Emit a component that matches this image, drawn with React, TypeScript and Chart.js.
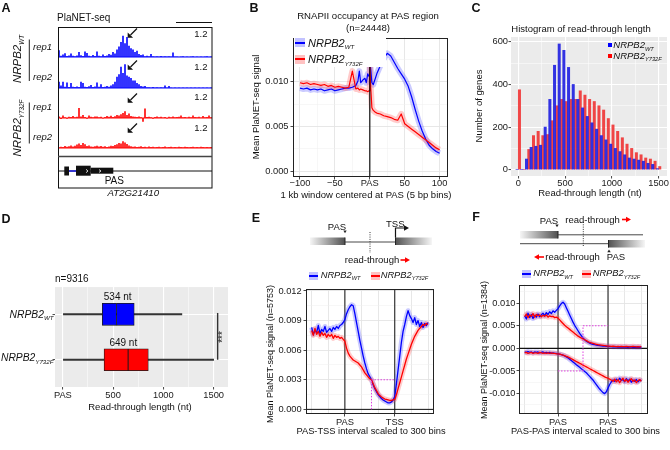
import React, { useEffect, useRef } from "react";
import { Chart, registerables } from "chart.js";

Chart.register(...registerables);

const FONT = '"Liberation Sans", Arial, Helvetica, sans-serif';
Chart.defaults.font.family = FONT;
Chart.defaults.font.size = 9.3;
Chart.defaults.color = "#1a1a1a";

const BLUE = "#0000FF";
const RED = "#FF0000";
const BLUE_BAND = "rgba(70,70,255,0.28)";
const RED_BAND = "rgba(255,70,70,0.28)";

// ---------------- Panel A: PlaNET-seq tracks (77 bins across the locus) ----------------
const aWT1 = [0.27, 0.05, 0.1, 0.15, 0.04, 0.06, 0.14, 0.05, 0.03, 0.06, 0.2, 0.07, 0.04, 0.22, 0.16, 0.05, 0.03, 0.08, 0.04, 0.22, 0.05, 0.03, 0.1, 0.04, 0.06, 0.12, 0.09, 0.2, 0.14, 0.3, 0.42, 0.6, 0.85, 0.55, 0.8, 0.45, 0.35, 0.3, 0.2, 0.25, 0.12, 0.08, 0.1, 0.03, 0.05, 0.03, 0.12, 0.03, 0.02, 0.03, 0.02, 0.04, 0.02, 0.03, 0.02, 0.03, 0.02, 0.18, 0.02, 0.02, 0.01, 0.02, 0.03, 0.01, 0.02, 0.01, 0.02, 0.03, 0.01, 0.02, 0.01, 0.02, 0.01, 0.02, 0.03, 0.01, 0.02];
const aWT2 = [0.25, 0.1, 0.25, 0.05, 0.22, 0.04, 0.2, 0.05, 0.04, 0.06, 0.04, 0.25, 0.2, 0.05, 0.04, 0.07, 0.12, 0.04, 0.06, 0.22, 0.05, 0.15, 0.04, 0.05, 0.08, 0.05, 0.1, 0.15, 0.25, 0.45, 0.55, 0.85, 0.6, 0.95, 0.5, 0.45, 0.4, 0.3, 0.3, 0.2, 0.15, 0.08, 0.06, 0.08, 0.03, 0.03, 0.02, 0.04, 0.02, 0.03, 0.02, 0.03, 0.02, 0.1, 0.02, 0.08, 0.02, 0.01, 0.02, 0.01, 0.02, 0.01, 0.02, 0.01, 0.02, 0.01, 0.02, 0.01, 0.02, 0.01, 0.02, 0.01, 0.02, 0.01, 0.02, 0.01, 0.02];
const aY1 = [0.06, -0.04, 0.1, 0.03, -0.03, 0.05, 0.04, 0.08, 0.03, 0.05, 0.4, 0.06, 0.12, 0.04, -0.03, 0.1, 0.05, 0.03, 0.06, 0.06, 0.03, 0.05, -0.02, 0.04, 0.08, 0.05, 0.09, 0.04, 0.07, 0.12, 0.1, 0.15, 0.2, 0.27, 0.12, 0.18, 0.08, 0.06, 0.05, 0.04, 0.06, 0.03, -0.15, 0.38, 0.04, 0.05, 0.03, -0.03, 0.04, 0.06, 0.03, 0.05, 0.02, 0.04, -0.02, 0.05, 0.03, 0.06, 0.03, 0.04, 0.05, 0.1, 0.03, 0.04, 0.02, 0.05, 0.03, 0.1, 0.04, 0.03, 0.05, 0.02, 0.08, 0.03, 0.04, 0.1, 0.03];
const aY2 = [0.03, 0.05, 0.04, 0.08, 0.05, 0.07, 0.1, 0.06, 0.09, 0.14, 0.18, 0.12, 0.2, 0.15, 0.08, 0.1, 0.06, 0.05, 0.07, 0.09, 0.06, 0.08, 0.05, 0.07, 0.04, 0.06, 0.09, 0.08, 0.12, 0.15, 0.2, 0.18, 0.27, 0.22, 0.16, 0.1, 0.07, 0.05, 0.06, 0.04, 0.05, 0.07, 0.04, 0.05, 0.03, 0.06, 0.04, 0.05, 0.03, 0.04, 0.05, 0.03, 0.04, 0.06, 0.03, 0.04, 0.05, 0.03, 0.04, 0.03, 0.05, 0.04, 0.03, 0.05, 0.04, 0.03, 0.04, 0.05, 0.03, 0.04, 0.03, 0.05, 0.04, 0.03, 0.04, 0.03, 0.04];

// ---------------- Panel B: occupancy at PAS ----------------
const bX = [-100, -95, -90, -85, -80, -75, -70, -65, -60, -55, -50, -45, -40, -35, -30, -25, -20, -17, -15, -13, -10, -7, -5, -3, -1, 0, 1, 3, 5, 8, 10, 15, 20, 25, 30, 35, 40, 45, 50, 55, 60, 65, 70, 75, 80, 85, 90, 95, 100];
const bWT = [0.0093, 0.0092, 0.0093, 0.0091, 0.0092, 0.0091, 0.0092, 0.009, 0.0091, 0.0092, 0.009, 0.0091, 0.0092, 0.0093, 0.0093, 0.0094, 0.0096, 0.0101, 0.0112, 0.0099, 0.0102, 0.0104, 0.0099, 0.0109, 0.0106, 0.013, 0.0117, 0.0099, 0.0097, 0.0104, 0.0109, 0.0118, 0.0126, 0.0132, 0.0129, 0.0122, 0.0115, 0.0109, 0.0103, 0.0095, 0.0083, 0.0069, 0.0056, 0.0045, 0.0036, 0.0029, 0.0025, 0.0022, 0.002];
const bY732F = [0.0099, 0.0098, 0.0099, 0.0097, 0.0098, 0.0097, 0.0096, 0.0097, 0.0095, 0.0096, 0.0094, 0.0095, 0.0094, 0.0093, 0.0094, 0.0112, 0.0092, 0.0093, 0.0091, 0.0092, 0.0091, 0.009, 0.009, 0.0089, 0.009, 0.0121, 0.0098, 0.0071, 0.0068, 0.0066, 0.0065, 0.0064, 0.0062, 0.0061, 0.006, 0.0058, 0.0057, 0.0064, 0.0053, 0.005, 0.0047, 0.0044, 0.0041, 0.0038, 0.0035, 0.0032, 0.0029, 0.0026, 0.0024];

// ---------------- Panel C: histogram ----------------
const cBins = [0, 50, 100, 150, 200, 250, 300, 350, 400, 450, 500, 550, 600, 650, 700, 750, 800, 850, 900, 950, 1000, 1050, 1100, 1150, 1200, 1250, 1300, 1350, 1400, 1450, 1500];
const cWT = [0, 0, 50, 105, 110, 115, 200, 330, 490, 590, 560, 480, 400, 330, 290, 250, 220, 190, 160, 140, 120, 100, 85, 70, 55, 50, 45, 40, 30, 25, 5];
const cY732F = [375, 0, 95, 160, 180, 160, 165, 230, 300, 330, 320, 330, 330, 370, 350, 330, 320, 300, 280, 240, 210, 180, 150, 120, 100, 80, 70, 55, 50, 40, 15];

// ---------------- Panel D: boxplot (min, q1, median, q3, max) ----------------
const dGroups = ["WT", "Y732F"];
const dMin = [0, 0];
const dQ1 = [393, 410];
const dMed = [534, 649];
const dQ3 = [710, 850];
const dMax = [1184, 1500];

// ---------------- Panel E: PAS-TSS ----------------
const eX = [-200, -190, -180, -170, -160, -150, -140, -130, -120, -110, -100, -90, -80, -70, -60, -50, -40, -30, -20, -10, 0, 10, 20, 30, 40, 50, 60, 70, 80, 90, 100, 110, 120, 130, 140, 150, 160, 170, 180, 190, 200, 210, 220, 230, 240, 250, 260, 270, 280, 290, 300, 310, 320, 330, 340, 350, 360, 370, 380, 390, 400, 410, 420, 430, 440, 450, 460, 470, 480, 490, 500];
const eWT = [0.0083, 0.0076, 0.008, 0.0078, 0.0085, 0.0077, 0.0081, 0.0079, 0.0084, 0.0078, 0.008, 0.0082, 0.0079, 0.0083, 0.0081, 0.0084, 0.0082, 0.0085, 0.0086, 0.0088, 0.0091, 0.0097, 0.0101, 0.0104, 0.0106, 0.0105, 0.0097, 0.0088, 0.0079, 0.007, 0.0062, 0.0054, 0.0047, 0.0041, 0.0036, 0.0033, 0.003, 0.0025, 0.0021, 0.0018, 0.0015, 0.0013, 0.0011, 0.00095, 0.00085, 0.00075, 0.00065, 0.00065, 0.00075, 0.00095, 0.0013, 0.0026, 0.004, 0.0054, 0.0068, 0.0079, 0.0086, 0.0094, 0.01, 0.0095, 0.0092, 0.0088, 0.0093, 0.0086, 0.009, 0.0084, 0.0088, 0.0083, 0.0087, 0.0085, 0.0088];
const eY732F = [0.008, 0.0075, 0.0082, 0.0076, 0.0079, 0.0074, 0.0078, 0.0075, 0.0077, 0.0073, 0.0076, 0.0074, 0.0076, 0.0072, 0.0075, 0.0073, 0.0074, 0.0072, 0.0073, 0.0071, 0.0069, 0.0062, 0.0057, 0.0054, 0.0052, 0.005, 0.0049, 0.0048, 0.0047, 0.0045, 0.0043, 0.004, 0.0037, 0.0035, 0.0033, 0.0031, 0.003, 0.0026, 0.0022, 0.0019, 0.0016, 0.0014, 0.00125, 0.00115, 0.00105, 0.001, 0.00095, 0.0009, 0.0009, 0.00095, 0.001, 0.0015, 0.0021, 0.0027, 0.0033, 0.0039, 0.0045, 0.0051, 0.0056, 0.0061, 0.0066, 0.007, 0.0074, 0.0077, 0.008, 0.0082, 0.0084, 0.0086, 0.0085, 0.0087, 0.0086];

// ---------------- Panel F: PAS-PAS (convergent) ----------------
const fX = eX;
const fWTplus = [0.0072, 0.0065, 0.0078, 0.0068, 0.0075, 0.0066, 0.0073, 0.0069, 0.0076, 0.007, 0.0074, 0.0078, 0.0072, 0.0079, 0.0075, 0.0081, 0.0077, 0.0083, 0.008, 0.0084, 0.0088, 0.0094, 0.0099, 0.0102, 0.0098, 0.009, 0.0082, 0.0074, 0.0066, 0.0058, 0.0051, 0.0045, 0.0039, 0.0033, 0.0028, 0.0023, 0.0019, 0.0016, 0.00135, 0.00115, 0.001, 0.0009, 0.0008, 0.0007, 0.00065, 0.0006, 0.00055, 0.0005, 0.0005, 0.00045, 0.00045, 0.0004, 0.0004, 0.00035, 0.0004, 0.00035, 0.0003, 0.00035, 0.0003, 0.0003, 0.00035, 0.0003, 0.00025, 0.0003, 0.0003, 0.00025, 0.0003, 0.00025, 0.0003, 0.00025, 0.0003];
const fY732Fplus = [0.007, 0.0076, 0.0068, 0.0074, 0.0071, 0.0077, 0.0069, 0.0075, 0.0072, 0.0074, 0.007, 0.0073, 0.0071, 0.0074, 0.0069, 0.0072, 0.007, 0.0071, 0.0068, 0.0069, 0.0067, 0.0063, 0.0059, 0.0055, 0.0051, 0.0048, 0.0045, 0.0042, 0.0039, 0.0036, 0.0033, 0.003, 0.0027, 0.0025, 0.0023, 0.0021, 0.0019, 0.0017, 0.0015, 0.0013, 0.0012, 0.0011, 0.001, 0.0009, 0.0008, 0.00075, 0.0007, 0.00065, 0.0006, 0.00055, 0.0005, 0.0005, 0.00045, 0.0005, 0.00045, 0.0004, 0.00045, 0.0004, 0.00045, 0.0004, 0.0004, 0.00045, 0.0004, 0.00035, 0.0004, 0.00045, 0.0004, 0.00035, 0.0004, 0.00035, 0.0004];
const fWTminus = [-0.0008, -0.0009, -0.0007, -0.0009, -0.0008, -0.001, -0.0008, -0.0009, -0.0008, -0.001, -0.0009, -0.0008, -0.001, -0.0009, -0.001, -0.0009, -0.0011, -0.001, -0.0011, -0.0011, -0.0012, -0.0013, -0.0014, -0.0015, -0.0017, -0.0019, -0.0021, -0.0024, -0.0027, -0.003, -0.0033, -0.0036, -0.0039, -0.0042, -0.0045, -0.0048, -0.0051, -0.0054, -0.0058, -0.0062, -0.0066, -0.007, -0.0075, -0.008, -0.0085, -0.009, -0.0094, -0.0098, -0.01, -0.0096, -0.0088, -0.008, -0.0074, -0.007, -0.0073, -0.0068, -0.0072, -0.0066, -0.0071, -0.0069, -0.0074, -0.0067, -0.0072, -0.0068, -0.0075, -0.007, -0.0073, -0.0069, -0.0074, -0.007, -0.0072];
const fY732Fminus = [-0.001, -0.0009, -0.0011, -0.001, -0.0009, -0.0011, -0.001, -0.001, -0.0011, -0.0009, -0.001, -0.0011, -0.001, -0.0011, -0.001, -0.0011, -0.001, -0.0011, -0.0011, -0.0012, -0.0012, -0.0013, -0.0014, -0.0015, -0.0016, -0.0018, -0.0019, -0.0021, -0.0023, -0.0025, -0.0027, -0.0029, -0.0031, -0.0033, -0.0035, -0.0037, -0.0039, -0.0041, -0.0043, -0.0045, -0.0047, -0.0049, -0.0051, -0.0053, -0.0055, -0.0057, -0.0059, -0.0061, -0.0063, -0.0065, -0.0066, -0.0068, -0.007, -0.0073, -0.0068, -0.0074, -0.0069, -0.0076, -0.007, -0.0066, -0.0073, -0.0069, -0.0075, -0.007, -0.0067, -0.0073, -0.007, -0.0076, -0.0071, -0.0069, -0.0073];

// ---------------- helpers ----------------
type Seg = { x1?: number; x2?: number; y1?: number; y2?: number; color: string; width: number; dash?: number[] };

function panel(p: { bg?: string; frame?: string; under?: Seg[]; over?: Seg[] }) {
  const draw = (chart: any, segs?: Seg[]) => {
    if (!segs || !segs.length) return;
    const { ctx, chartArea: a, scales } = chart;
    const xs = scales.x;
    const ys = scales.y;
    ctx.save();
    ctx.beginPath();
    ctx.rect(a.left, a.top, a.right - a.left, a.bottom - a.top);
    ctx.clip();
    for (const s of segs) {
      const X1 = s.x1 === undefined ? a.left : xs.getPixelForValue(s.x1);
      const X2 = s.x2 === undefined ? a.right : xs.getPixelForValue(s.x2);
      const Y1 = s.y1 === undefined ? a.bottom : ys.getPixelForValue(s.y1);
      const Y2 = s.y2 === undefined ? a.top : ys.getPixelForValue(s.y2);
      ctx.beginPath();
      ctx.strokeStyle = s.color;
      ctx.lineWidth = s.width;
      ctx.setLineDash(s.dash || []);
      ctx.moveTo(X1, Y1);
      ctx.lineTo(X2, Y2);
      ctx.stroke();
    }
    ctx.restore();
  };
  return {
    id: "panel",
    beforeDraw(chart: any) {
      if (!p.bg) return;
      const { ctx, chartArea: a } = chart;
      ctx.save();
      ctx.fillStyle = p.bg;
      ctx.fillRect(a.left, a.top, a.right - a.left, a.bottom - a.top);
      ctx.restore();
    },
    beforeDatasetsDraw(chart: any) {
      draw(chart, p.under);
    },
    afterDatasetsDraw(chart: any) {
      draw(chart, p.over);
      if (p.frame) {
        const { ctx, chartArea: a } = chart;
        ctx.save();
        ctx.strokeStyle = p.frame;
        ctx.lineWidth = 1;
        ctx.strokeRect(Math.round(a.left) + 0.5, Math.round(a.top) + 0.5, Math.round(a.right - a.left) - 1, Math.round(a.bottom - a.top) - 1);
        ctx.restore();
      }
    },
  };
}

const near = (list: number[], v: number) => list.some((m) => Math.abs(m - v) < 1e-9);

function axis(o: any) {
  const minors: number[] = o.minors || [];
  const labeled: number[] = o.labeled || o.majors;
  const marks: number[] = o.marks || labeled;
  const all = [...o.majors, ...minors].sort((a, b) => a - b);
  const fmt = o.fmt || ((v: number) => String(v));
  const gray = o.theme === "gray";
  const majC = gray ? "#FFFFFF" : "#E4E4E4";
  const minC = gray ? "#FFFFFF" : "#EFEFEF";
  return {
    type: "linear",
    min: o.min,
    max: o.max,
    reverse: !!o.reverse,
    offset: false,
    afterBuildTicks: (s: any) => {
      s.ticks = all.map((v) => ({ value: v }));
    },
    afterFit: (s: any) => {
      if (o.horizontal) s.height = o.size;
      else s.width = o.size;
    },
    border: { display: false },
    grid: {
      offset: false,
      drawTicks: true,
      tickLength: 2.5,
      tickWidth: 0.9,
      color: (c: any) => (c.tick && near(o.majors, c.tick.value) ? majC : minC),
      lineWidth: (c: any) => (c.tick && near(o.majors, c.tick.value) ? (gray ? 1.1 : 0.9) : 0.5),
      tickColor: (c: any) => (c.tick && near(marks, c.tick.value) ? "#333333" : "rgba(0,0,0,0)"),
    },
    ticks: {
      autoSkip: false,
      maxRotation: 0,
      minRotation: 0,
      padding: o.pad === undefined ? 1.5 : o.pad,
      color: "#1a1a1a",
      font: { size: 9.3, family: FONT },
      callback: (v: any) => (near(labeled, Number(v)) ? fmt(Number(v)) : ""),
    },
  };
}

const base = (padding: any) => ({
  responsive: false,
  maintainAspectRatio: false,
  animation: false,
  devicePixelRatio: 1,
  events: [],
  layout: { padding },
  plugins: { legend: { display: false }, tooltip: { enabled: false }, title: { display: false } },
});

const lineDs = (xs: number[], ys: number[], color: string, w: number) => ({
  type: "line",
  data: xs.map((x, i) => ({ x, y: ys[i] })),
  borderColor: color,
  borderWidth: w,
  pointRadius: 0,
  tension: 0,
  fill: false,
  borderJoinStyle: "round",
});

const f3 = (v: number) => v.toFixed(3);

function track(vals: number[], color: string) {
  return {
    type: "bar",
    data: {
      labels: vals.map((_, i) => i),
      datasets: [{ data: vals, backgroundColor: color, barPercentage: 0.8, categoryPercentage: 1 }],
    },
    options: {
      ...base({ top: 0, right: 0, left: 0, bottom: 0 }),
      scales: { x: { display: false }, y: { display: false, min: -0.16, max: 1.2 } },
    },
    plugins: [panel({ under: [{ y1: 0, y2: 0, color, width: 1 }] })],
  };
}

const makeB = () => ({
  type: "line",
  data: {
    datasets: [
      lineDs(bX, bY732F, RED, 1.2),
      lineDs(bX, bWT, BLUE, 1.2),
      lineDs(bX, bY732F, RED_BAND, 6),
      lineDs(bX, bWT, BLUE_BAND, 6),
    ],
  },
  options: {
    ...base({ top: 5, right: 7, left: 0, bottom: 0 }),
    scales: {
      x: axis({ min: -110, max: 112, majors: [-100, -50, 0, 50, 100], minors: [-75, -25, 25, 75], fmt: (v: number) => (v === 0 ? "PAS" : v < 0 ? "\u2212" + Math.abs(v) : String(v)), size: 25, horizontal: true, theme: "bw", pad: -1.5 }),
      y: axis({ min: -0.00066, max: 0.01496, majors: [0, 0.005, 0.01], minors: [0.0025, 0.0075, 0.0125], fmt: f3, size: 50, theme: "bw", pad: 2 }),
    },
  },
  plugins: [panel({ frame: "#222", over: [{ x1: 0, x2: 0, color: "#111", width: 1.2 }] })],
});

const makeC = () => ({
  type: "bar",
  data: {
    datasets: [
      { data: cBins.map((x, i) => ({ x, y: cWT[i] })), backgroundColor: "rgba(30,30,225,0.9)", barPercentage: 1, categoryPercentage: 1 },
      { data: cBins.map((x, i) => ({ x, y: cY732F[i] })), backgroundColor: "rgba(240,40,40,0.85)", barPercentage: 1, categoryPercentage: 1 },
    ],
  },
  options: {
    ...base({ top: 7, right: 3, left: 0, bottom: 0 }),
    scales: {
      x: axis({ min: -78, max: 1590, majors: [0, 500, 1000, 1500], minors: [250, 750, 1250], size: 26, horizontal: true, theme: "gray", pad: -0.5 }),
      y: axis({ min: -29.6, max: 622.6, majors: [0, 200, 400, 600], minors: [100, 300, 500], size: 33, theme: "gray", pad: 0.5 }),
    },
  },
  plugins: [panel({ bg: "#EBEBEB" })],
});

const makeD = () => ({
  type: "bar",
  data: {
    datasets: [
      { data: dGroups.map((_, i) => ({ y: i, x: [dMin[i], dMax[i]] })), backgroundColor: "#333333", barThickness: 1.3, grouped: false, order: 3 },
      { data: dGroups.map((_, i) => ({ y: i, x: [dQ1[i], dMed[i]] })), backgroundColor: [BLUE, RED], borderColor: "#1a1a1a", borderWidth: 0.8, borderSkipped: false, barThickness: 22, grouped: false, order: 1 },
      { data: dGroups.map((_, i) => ({ y: i, x: [dMed[i], dQ3[i]] })), backgroundColor: [BLUE, RED], borderColor: "#1a1a1a", borderWidth: 0.8, borderSkipped: false, barThickness: 22, grouped: false, order: 1 },
    ],
  },
  options: {
    ...base({ top: 7, right: 7, left: 0, bottom: 0 }),
    indexAxis: "y",
    scales: {
      x: axis({ min: -78, max: 1643, majors: [0, 500, 1000, 1500], minors: [250, 750, 1250], fmt: (v: number) => (v === 0 ? "PAS" : String(v)), size: 18, horizontal: true, theme: "gray", pad: 0.4 }),
      y: axis({ min: -0.6, max: 1.6, reverse: true, majors: [0, 1], labeled: [], marks: [0, 1], size: 5, theme: "gray" }),
    },
  },
  plugins: [panel({ bg: "#EBEBEB", over: [{ x1: 1540, x2: 1540, y1: -0.03, y2: 1.0, color: "#333", width: 1.4 }] })],
});

const makeE = () => ({
  type: "line",
  data: {
    datasets: [
      lineDs(eX, eY732F, RED, 1.3),
      lineDs(eX, eWT, BLUE, 1.3),
      lineDs(eX, eY732F, RED_BAND, 5),
      lineDs(eX, eWT, BLUE_BAND, 5),
    ],
  },
  options: {
    ...base({ top: 5, right: 6, left: 0, bottom: 0 }),
    scales: {
      x: axis({ min: -234, max: 536, majors: [-200, -100, 0, 100, 200, 300, 400, 500], labeled: [0, 300], fmt: (v: number) => (v === 0 ? "PAS" : "TSS"), size: 16, horizontal: true, theme: "bw", pad: 0.1 }),
      y: axis({ min: -0.00047, max: 0.01216, majors: [0, 0.003, 0.006, 0.009, 0.012], minors: [0.0015, 0.0045, 0.0075, 0.0105], fmt: f3, size: 34, theme: "bw", pad: 1.8 }),
    },
  },
  plugins: [
    panel({
      frame: "#222",
      under: [
        { x1: 0, x2: 0, color: "#111", width: 1 },
        { x1: 300, x2: 300, color: "#111", width: 1 },
        { y1: 0, y2: 0, color: "#111", width: 1 },
      ],
      over: [
        { x1: 160, x2: 160, y1: 0, y2: 0.003, color: "#E040E0", width: 1, dash: [1.5, 1.5] },
        { x1: 160, x2: 300, y1: 0.003, y2: 0.003, color: "#E040E0", width: 1, dash: [1.5, 1.5] },
      ],
    }),
  ],
});

const makeF = () => ({
  type: "line",
  data: {
    datasets: [
      lineDs(fX, fY732Fplus, RED, 1.3),
      lineDs(fX, fY732Fminus, RED, 1.3),
      lineDs(fX, fWTplus, BLUE, 1.3),
      lineDs(fX, fWTminus, BLUE, 1.3),
      lineDs(fX, fY732Fplus, RED_BAND, 5),
      lineDs(fX, fY732Fminus, RED_BAND, 5),
      lineDs(fX, fWTplus, BLUE_BAND, 5),
      lineDs(fX, fWTminus, BLUE_BAND, 5),
    ],
  },
  options: {
    ...base({ top: 5, right: 7, left: 0, bottom: 0 }),
    scales: {
      x: axis({ min: -234, max: 540, majors: [-200, -100, 0, 100, 200, 300, 400, 500], labeled: [0, 300], fmt: () => "PAS", size: 16, horizontal: true, theme: "bw", pad: 0.1 }),
      y: axis({ min: -0.01452, max: 0.01411, majors: [-0.01, -0.005, 0, 0.005, 0.01], minors: [-0.0125, -0.0075, -0.0025, 0.0025, 0.0075, 0.0125], fmt: (v: number) => (v < 0 ? "-" : "") + Math.abs(v).toFixed(3), size: 34, theme: "bw", pad: 1 }),
    },
  },
  plugins: [
    panel({
      frame: "#222",
      under: [
        { x1: 0, x2: 0, color: "#111", width: 1 },
        { x1: 300, x2: 300, color: "#111", width: 1 },
        { y1: 0, y2: 0, color: "#111", width: 1.2 },
      ],
      over: [
        { x1: 150, x2: 150, y1: -0.005, y2: 0.005, color: "#E040E0", width: 1, dash: [1.5, 1.5] },
        { x1: 150, x2: 300, y1: 0.005, y2: 0.005, color: "#E040E0", width: 1, dash: [1.5, 1.5] },
        { x1: 0, x2: 150, y1: -0.005, y2: -0.005, color: "#E040E0", width: 1, dash: [1.5, 1.5] },
      ],
    }),
  ],
});

// ---------------- components ----------------
function ChartCanvas({ left, top, w, h, make }: { left: number; top: number; w: number; h: number; make: () => any }) {
  const ref = useRef<HTMLCanvasElement>(null);
  useEffect(() => {
    const c = new Chart(ref.current as HTMLCanvasElement, make());
    return () => c.destroy();
  }, []);
  return <canvas ref={ref} width={w} height={h} style={{ position: "absolute", left, top, width: w, height: h }} />;
}

function Txt({ x, y, children, size = 9.5, anchor = "middle", rot = false, bold = false, italic = false, color = "#111" }: any) {
  const tx = anchor === "start" ? "0" : anchor === "end" ? "-100%" : "-50%";
  return (
    <div
      style={{
        position: "absolute",
        left: x,
        top: y,
        transform: `translate(${tx}, -50%)${rot ? " rotate(-90deg)" : ""}`,
        whiteSpace: "nowrap",
        fontSize: size,
        lineHeight: 1,
        fontWeight: bold ? 700 : 400,
        fontStyle: italic ? "italic" : "normal",
        color,
        fontFamily: FONT,
      }}
    >
      {children}
    </div>
  );
}

const Nrpb = ({ sub, k = 0.6 }: { sub: string; k?: number }) => (
  <i>
    NRPB2<span style={{ fontSize: `${k}em`, position: "relative", top: "0.4em" }}>{sub}</span>
  </i>
);

const Swatch = ({ x, y, w, h, band, color }: any) => (
  <div style={{ position: "absolute", left: x, top: y - h / 2, width: w, height: h, background: band }}>
    <div style={{ position: "absolute", left: 0, right: 0, top: h / 2 - 1, height: 2, background: color }} />
  </div>
);

const PointerArrow = ({ cx, cy }: { cx: number; cy: number }) => (
  <g>
    <line x1={cx + 4.5} y1={cy - 4.5} x2={cx - 2} y2={cy + 2} stroke="#111" strokeWidth={1.3} />
    <polygon points={`${cx - 4.8},${cy + 4.8} ${cx - 4.8},${cy - 0.6} ${cx + 0.6},${cy + 4.8}`} fill="#111" />
  </g>
);

export default function App() {
  return (
    <div style={{ position: "absolute", left: 0, top: 0, width: 670, height: 450, background: "#fff", overflow: "hidden", fontFamily: FONT, color: "#111" }}>
      {/* Panel A tracks */}
      <ChartCanvas left={58} top={27} w={154} h={34} make={() => track(aWT1, BLUE)} />
      <ChartCanvas left={58} top={58} w={154} h={34} make={() => track(aWT2, BLUE)} />
      <ChartCanvas left={58} top={88} w={154} h={34} make={() => track(aY1, RED)} />
      <ChartCanvas left={58} top={118} w={154} h={34} make={() => track(aY2, RED)} />

      {/* Charts */}
      <ChartCanvas left={243} top={30} w={212} h={172} make={makeB} />
      <ChartCanvas left={478} top={30} w={192} h={172} make={makeC} />
      <ChartCanvas left={50} top={280} w={185} h={125} make={makeD} />
      <ChartCanvas left={272} top={282} w={168} h={148} make={makeE} />
      <ChartCanvas left={485} top={278} w={170} h={152} make={makeF} />

      <svg width={670} height={450} style={{ position: "absolute", left: 0, top: 0, pointerEvents: "none" }}>
        <defs>
          <linearGradient id="gL" x1="0" x2="1" y1="0" y2="0">
            <stop offset="0" stopColor="#f6f6f6" />
            <stop offset="1" stopColor="#505050" />
          </linearGradient>
          <linearGradient id="gR" x1="0" x2="1" y1="0" y2="0">
            <stop offset="0" stopColor="#505050" />
            <stop offset="1" stopColor="#f6f6f6" />
          </linearGradient>
        </defs>
        {/* A frame & decorations */}
        <line x1={176} y1={22.5} x2={212} y2={22.5} stroke="#111" strokeWidth={1} />
        <rect x={58.5} y={27.5} width={153.5} height={160.5} fill="none" stroke="#111" strokeWidth={1} />
        <line x1={58} y1={156.5} x2={212} y2={156.5} stroke="#444" strokeWidth={1.6} />
        <line x1={29.3} y1={39.5} x2={29.3} y2={81} stroke="#222" strokeWidth={1} />
        <line x1={29.3} y1={102.5} x2={29.3} y2={143.5} stroke="#222" strokeWidth={1} />
        <PointerArrow cx={132.5} cy={33} />
        <PointerArrow cx={132.5} cy={65} />
        <PointerArrow cx={132.5} cy={98} />
        <PointerArrow cx={132.5} cy={128} />
        {/* gene model */}
        <line x1={58} y1={171} x2={212} y2={171} stroke="#111" strokeWidth={1} />
        <rect x={64.3} y={166.5} width={4.7} height={9} fill="#111" />
        <line x1={69} y1={171} x2={76} y2={171} stroke={BLUE} strokeWidth={1.2} />
        <rect x={76} y={165.7} width={14.7} height={10} fill="#111" />
        <rect x={90.7} y={167.7} width={22.6} height={6} fill="#111" />
        <polyline points="86,169.3 88,171 86,172.7" fill="none" stroke="#fff" strokeWidth={0.8} />
        <polyline points="99,169.6 101,171 99,172.4" fill="none" stroke="#fff" strokeWidth={0.8} />

        {/* E diagram */}
        <rect x={310} y={237.5} width={35} height={7.5} fill="url(#gL)" />
        <line x1={345} y1={237.5} x2={345} y2={245} stroke="#222" strokeWidth={1} />
        <line x1={345} y1={242} x2={395} y2={242} stroke="#333" strokeWidth={0.9} />
        <rect x={395} y={237.5} width={37} height={7.5} fill="url(#gR)" />
        <line x1={395.5} y1={237.5} x2={395.5} y2={245} stroke="#222" strokeWidth={1} />
        <line x1={370} y1={232} x2={370} y2={253} stroke="#222" strokeWidth={0.9} strokeDasharray="1 1.3" />
        <polygon points="343.3,230.5 346.7,230.5 345,233.3" fill="#222" />
        <polyline points="395.5,237.5 395.5,228 405,228" fill="none" stroke="#111" strokeWidth={1.2} />
        <polygon points="404,225.3 409,228 404,230.7" fill="#111" />
        <line x1={400.5} y1={260} x2={406} y2={260} stroke={RED} strokeWidth={1.6} />
        <polygon points="405,257.3 410,260 405,262.7" fill={RED} />

        {/* F diagram */}
        <rect x={520} y={231} width={38} height={7.5} fill="url(#gL)" />
        <line x1={558} y1={231} x2={558} y2={238.5} stroke="#222" strokeWidth={1} />
        <line x1={558} y1={234.8} x2={643} y2={234.8} stroke="#333" strokeWidth={0.9} />
        <line x1={520} y1={243.7} x2={608} y2={243.7} stroke="#333" strokeWidth={0.9} />
        <rect x={608} y={240} width={37} height={7.5} fill="url(#gR)" />
        <line x1={608.5} y1={240} x2={608.5} y2={247.5} stroke="#222" strokeWidth={1} />
        <line x1={583.3} y1={222} x2={583.3} y2={247} stroke="#222" strokeWidth={0.9} strokeDasharray="1 1.3" />
        <polygon points="555.3,224.5 558.7,224.5 557,227.3" fill="#222" />
        <polygon points="607.3,252.3 610.7,252.3 609,249.5" fill="#222" />
        <line x1={622} y1={219.5} x2={627} y2={219.5} stroke={RED} strokeWidth={1.6} />
        <polygon points="626,216.8 631,219.5 626,222.2" fill={RED} />
        <line x1={538} y1={257} x2={544} y2={257} stroke={RED} strokeWidth={1.6} />
        <polygon points="539,254.3 534,257 539,259.7" fill={RED} />
      </svg>

      {/* Panel letters */}
      <Txt x={6} y={7.5} size={12.5} bold>A</Txt>
      <Txt x={254} y={7.5} size={12.5} bold>B</Txt>
      <Txt x={476} y={7.5} size={12.5} bold>C</Txt>
      <Txt x={6} y={219} size={12.5} bold>D</Txt>
      <Txt x={256} y={217.5} size={12.5} bold>E</Txt>
      <Txt x={476} y={217} size={12.5} bold>F</Txt>

      {/* A texts */}
      <Txt x={57} y={17.5} size={10} anchor="start">PlaNET-seq</Txt>
      <Txt x={207.5} y={34.3} size={9.5} anchor="end">1.2</Txt>
      <Txt x={207.5} y={66.7} size={9.5} anchor="end">1.2</Txt>
      <Txt x={207.5} y={97.3} size={9.5} anchor="end">1.2</Txt>
      <Txt x={207.5} y={127.7} size={9.5} anchor="end">1.2</Txt>
      <Txt x={33} y={46.7} size={9.5} anchor="start" italic>rep1</Txt>
      <Txt x={33} y={77.3} size={9.5} anchor="start" italic>rep2</Txt>
      <Txt x={33} y={107.3} size={9.5} anchor="start" italic>rep1</Txt>
      <Txt x={33} y={137.3} size={9.5} anchor="start" italic>rep2</Txt>
      <Txt x={18.3} y={59} size={11.5} rot><Nrpb sub="WT" k={0.55} /></Txt>
      <Txt x={18.3} y={127.5} size={11.5} rot><Nrpb sub="Y732F" k={0.55} /></Txt>
      <Txt x={114.3} y={180.8} size={10}>PAS</Txt>
      <Txt x={133.3} y={193.3} size={9.7} italic>AT2G21410</Txt>

      {/* B texts */}
      <Txt x={368} y={16} size={9.6}>RNAPII occupancy at PAS region</Txt>
      <Txt x={368} y={28.3} size={9.6}>(n=24448)</Txt>
      <Txt x={255.5} y={107} size={9.5} rot>Mean PlaNET-seq signal</Txt>
      <Txt x={366} y={195.3} size={9.5}>1 kb window centered at PAS (5 bp bins)</Txt>
      <div style={{ position: "absolute", left: 294, top: 36, width: 92, height: 31, background: "#fff" }} />
      <Swatch x={295} y={42.7} w={10} h={9} band="rgba(120,120,255,0.45)" color={BLUE} />
      <Swatch x={295} y={59.3} w={10} h={9} band="rgba(255,120,120,0.45)" color={RED} />
      <Txt x={308} y={42.7} size={11} anchor="start"><Nrpb sub="WT" k={0.55} /></Txt>
      <Txt x={308} y={59.3} size={11} anchor="start"><Nrpb sub="Y732F" k={0.55} /></Txt>

      {/* C texts */}
      <Txt x={581} y={29.3} size={9.5}>Histogram of read-through length</Txt>
      <Txt x={479.2} y={106} size={9.5} rot>Number of genes</Txt>
      <Txt x={590} y={193.3} size={9.5}>Read-through length (nt)</Txt>
      <div style={{ position: "absolute", left: 607.7, top: 43.3, width: 4, height: 4, background: BLUE }} />
      <div style={{ position: "absolute", left: 607.7, top: 54, width: 4, height: 4, background: RED }} />
      <Txt x={613.3} y={45.3} size={9.5} anchor="start"><Nrpb sub="WT" /></Txt>
      <Txt x={613.3} y={56} size={9.5} anchor="start"><Nrpb sub="Y732F" /></Txt>

      {/* D texts */}
      <Txt x={55} y={279} size={10} anchor="start">n=9316</Txt>
      <Txt x={53.5} y={315} size={10.3} anchor="end"><Nrpb sub="WT" /></Txt>
      <Txt x={53.5} y={358.3} size={10.3} anchor="end"><Nrpb sub="Y732F" /></Txt>
      <Txt x={117.7} y={296.7} size={10}>534 nt</Txt>
      <Txt x={123.3} y={342.7} size={10}>649 nt</Txt>
      <Txt x={223.3} y={336.7} size={10} rot>***</Txt>
      <Txt x={140} y={406.7} size={9.5}>Read-through length (nt)</Txt>

      {/* E texts */}
      <Txt x={337} y={226.5} size={9.5}>PAS</Txt>
      <Txt x={395.3} y={224} size={9.5}>TSS</Txt>
      <Txt x={372} y={260} size={9.5}>read-through</Txt>
      <Swatch x={309.3} y={276} w={9} h={8} band="rgba(120,120,255,0.45)" color={BLUE} />
      <Swatch x={370.7} y={276} w={9} h={8} band="rgba(255,120,120,0.45)" color={RED} />
      <Txt x={320.7} y={276} size={9.3} anchor="start"><Nrpb sub="WT" /></Txt>
      <Txt x={380.7} y={276} size={9.3} anchor="start"><Nrpb sub="Y732F" /></Txt>
      <Txt x={270.3} y={354} size={9} rot>Mean PlaNET-seq signal (n=5753)</Txt>
      <Txt x={371} y={431.7} size={9.3}>PAS-TSS interval scaled to 300 bins</Txt>

      {/* F texts */}
      <Txt x={549} y={220.5} size={9.5}>PAS</Txt>
      <Txt x={592.5} y={219.5} size={9.5}>read-through</Txt>
      <Txt x={572.5} y={257} size={9.5}>read-through</Txt>
      <Txt x={616} y={257} size={9.5}>PAS</Txt>
      <Swatch x={521.7} y={274.3} w={9} h={8} band="rgba(120,120,255,0.45)" color={BLUE} />
      <Swatch x={581.7} y={274.3} w={9} h={8} band="rgba(255,120,120,0.45)" color={RED} />
      <Txt x={533.3} y={274.3} size={9.3} anchor="start"><Nrpb sub="WT" /></Txt>
      <Txt x={592.7} y={274.3} size={9.3} anchor="start"><Nrpb sub="Y732F" /></Txt>
      <Txt x={484.2} y={350} size={9} rot>Mean PlaNET-seq signal (n=1384)</Txt>
      <Txt x={585.5} y={431.7} size={9.3}>PAS-PAS interval scaled to 300 bins</Txt>
    </div>
  );
}
